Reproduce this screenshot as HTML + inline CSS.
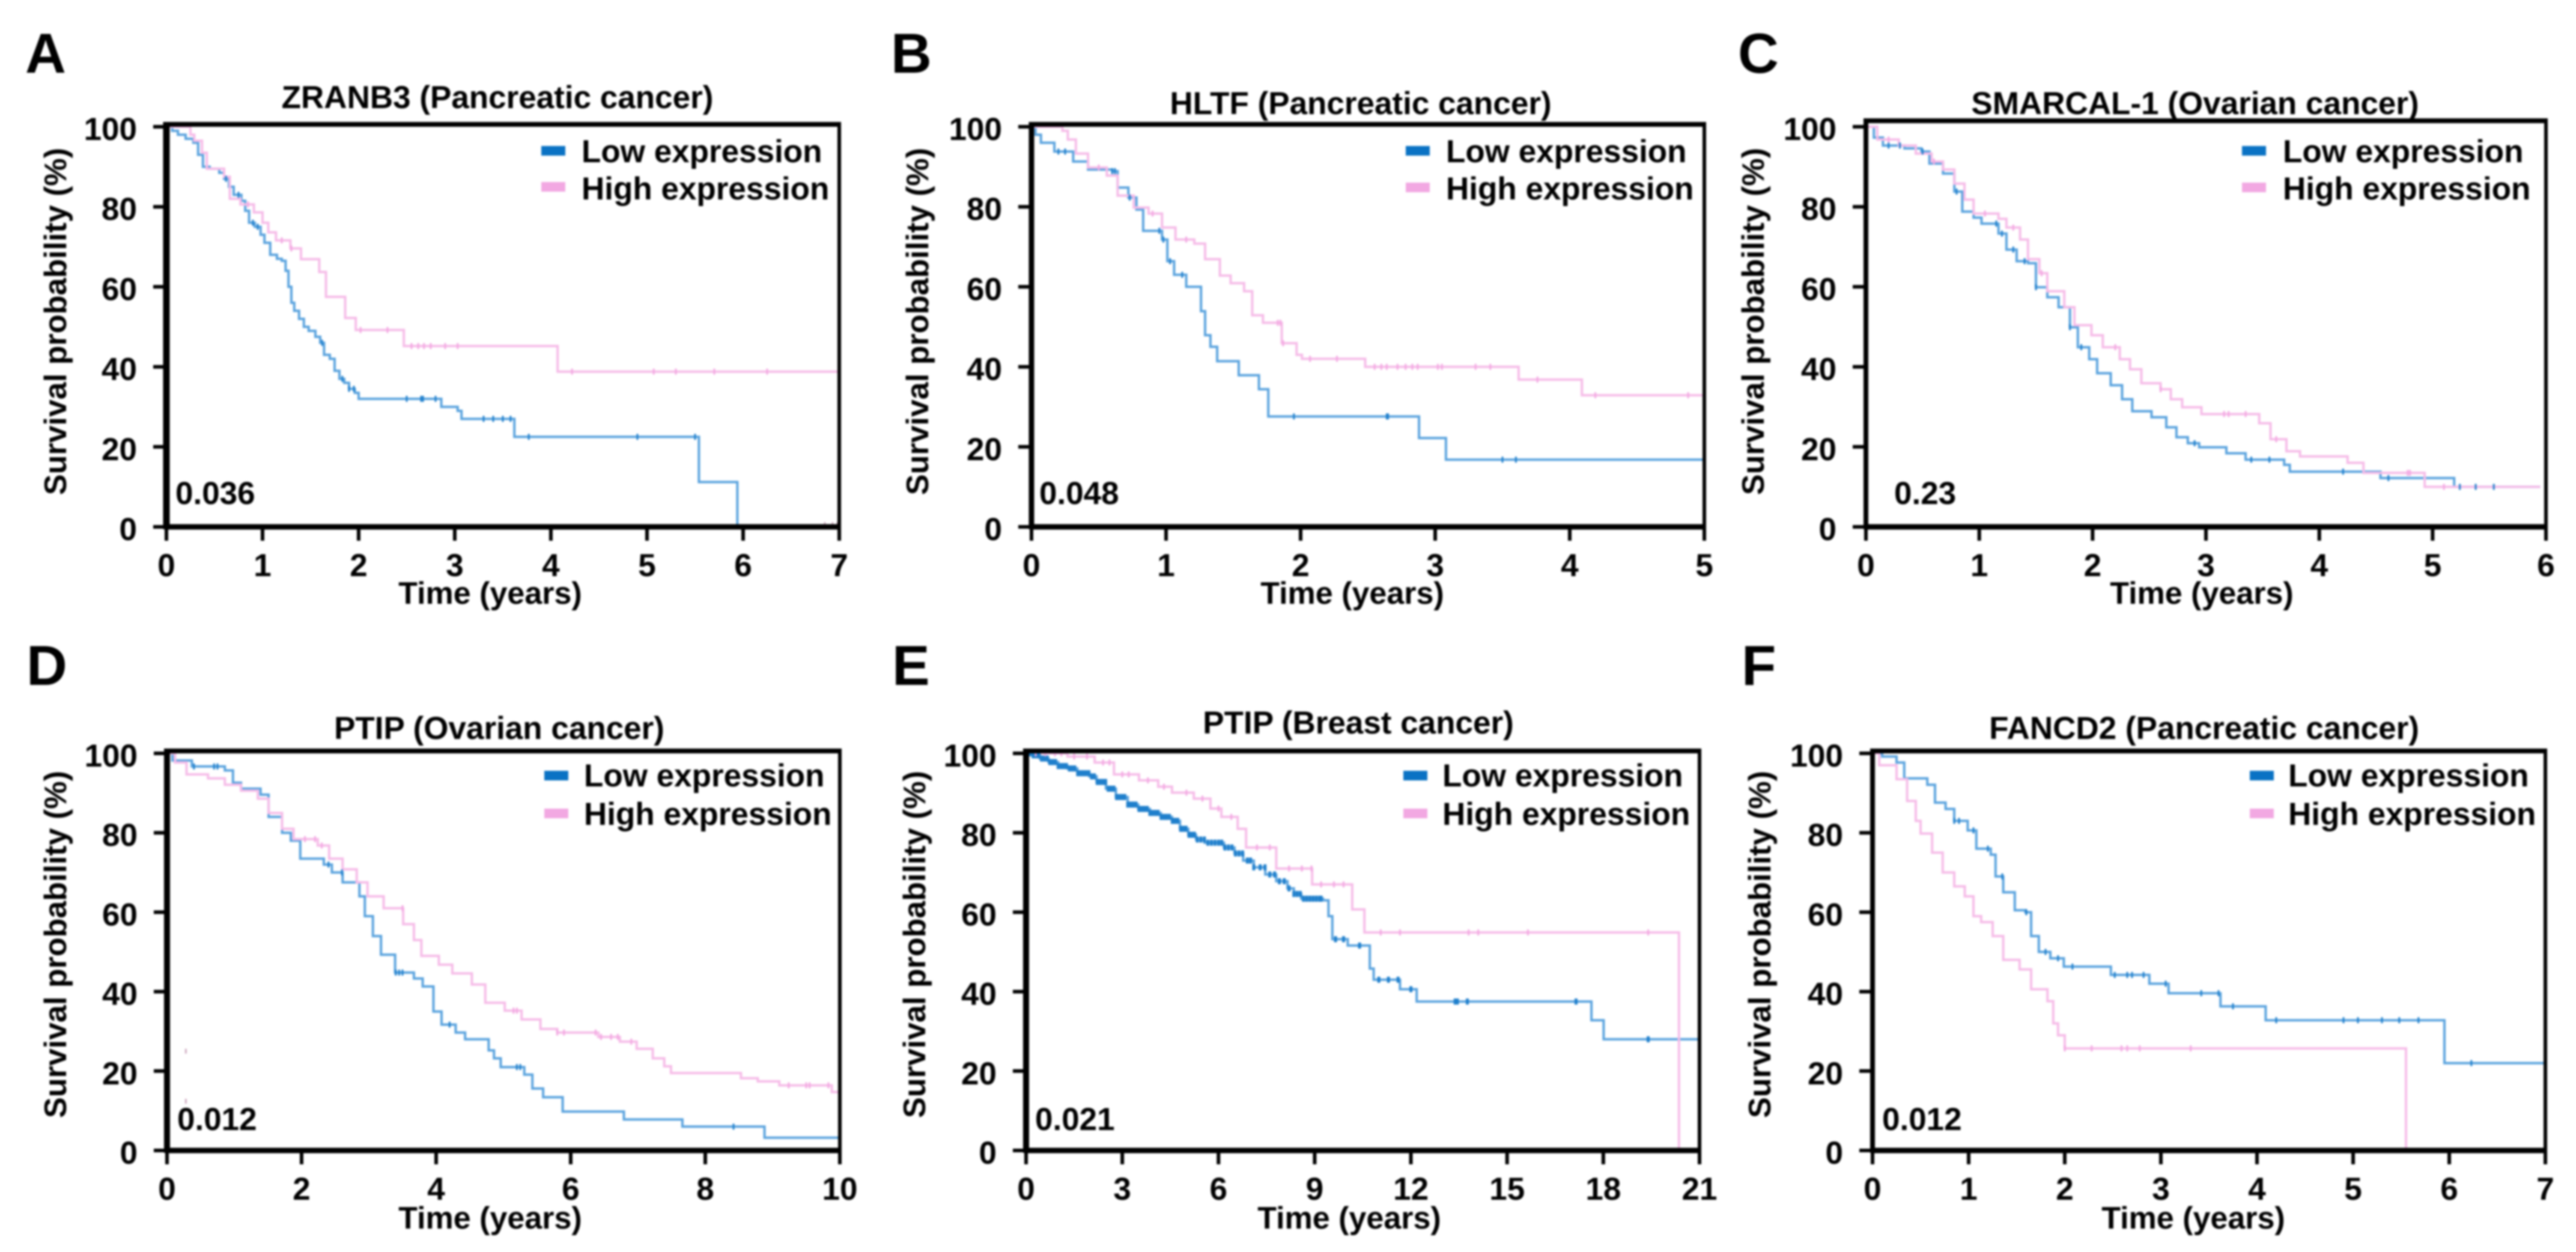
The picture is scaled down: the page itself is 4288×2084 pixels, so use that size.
<!DOCTYPE html>
<html lang="en">
<head>
<meta charset="utf-8">
<title>Survival curves by gene expression</title>
<style>
html,body{margin:0;padding:0;background:#fff;width:4288px;height:2084px;overflow:hidden}
svg{display:block;filter:blur(1.6px)}
text{font-family:"Liberation Sans",Arial,sans-serif;font-weight:bold;fill:#000}
</style>
</head>
<body>
<svg id="figure" xmlns="http://www.w3.org/2000/svg" width="4288" height="2084" viewBox="0 0 4288 2084">
<rect x="0" y="0" width="4288" height="2084" fill="#fff"/>
</svg>
<script>
const yTicks = [0, 20, 40, 60, 80, 100];
const xTicksA = [0, 1, 2, 3, 4, 5, 6, 7];
const xTicksB = [0, 1, 2, 3, 4, 5];
const xTicksC = [0, 1, 2, 3, 4, 5, 6];
const xTicksD = [0, 2, 4, 6, 8, 10];
const xTicksE = [0, 3, 6, 9, 12, 15, 18, 21];
const xTicksF = [0, 1, 2, 3, 4, 5, 6, 7];

const lowA = [[0,100],[.06,99],[.12,98],[.2,97],[.28,96],[.33,93],[.38,90],[.45,89.5],[.55,88.5],[.6,87],[.65,85],[.7,83],[.78,81.5],[.82,79],[.86,76],[.92,75],[.98,73],[1.02,71],[1.08,68],[1.15,67],[1.2,66.5],[1.24,64],[1.27,60],[1.3,56],[1.33,54],[1.38,52],[1.43,50],[1.48,49],[1.55,47.5],[1.6,46],[1.64,43],[1.7,42],[1.75,39],[1.8,37],[1.85,36],[1.9,34.5],[1.96,33.5],[2,32],[2.86,30],[3.03,29],[3.07,27],[3.62,22.5],[5.54,11.2],[5.94,0]];
const highA = [[0,100],[.2,100],[.25,98],[.29,96.5],[.37,93.5],[.42,89.5],[.6,87.5],[.66,82],[.77,80.6],[.91,78.6],[1,76],[1.06,73.6],[1.14,71.6],[1.29,69.6],[1.4,66.9],[1.59,63.7],[1.66,57.5],[1.86,52.2],[1.97,49.2],[2.47,45.2],[4.07,38.8],[7,38.8]];
const lowCensorA = [.62,.75,.9,.95,1.62,1.83,1.9,1.95,2.5,2.65,2.67,2.8,3.3,3.4,3.5,3.58,3.77,4.9,5.5];
const highCensorA = [.85,1.2,1.3,2.02,2.3,2.55,2.62,2.68,2.75,2.9,3.03,4.22,5.07,5.3,5.7,6.25];
const specksA = [[6.85,.6],[6.93,.6],[6.98,.6]];

const lowB = [[0,100],[.03,98],[.07,96],[.17,93.8],[.31,91.3],[.42,89.3],[.6,88.9],[.64,84.8],[.72,82.3],[.78,79.3],[.83,74],[.97,71.8],[1.01,66.4],[1.06,63],[1.15,60],[1.26,53.9],[1.29,47.9],[1.33,45],[1.38,41.4],[1.54,37.9],[1.69,34.4],[1.76,27.6],[2.88,22.2],[3.08,16.8],[5,16.8]];
const highB = [[0,100],[.23,99],[.27,96.8],[.33,93.3],[.42,89.8],[.56,87.8],[.64,82.8],[.76,79.8],[.87,78.3],[.97,74.8],[1.07,71.8],[1.21,70.8],[1.29,66.9],[1.4,62.8],[1.48,60.9],[1.58,58.9],[1.64,52.9],[1.72,51],[1.86,45.9],[1.97,43],[2.01,42],[2.48,40],[3.62,36.8],[4.09,32.9],[5,32.9]];
const lowCensorB = [.2,.25,.6,.62,.73,.95,.98,1.03,1.12,1.95,2.64,2.65,3.5,3.6];
const highCensorB = [.5,.9,1.15,1.83,1.85,1.87,2.07,2.27,2.55,2.6,2.64,2.72,2.78,2.83,2.87,3.02,3.05,3.3,3.41,3.76,4.19,4.88];
const specksB = [];

const lowC = [[0,100],[.07,97.3],[.15,95.3],[.34,94.6],[.49,93.8],[.56,90.8],[.68,88.3],[.78,83.8],[.85,78.8],[.95,77.3],[1.02,75.8],[1.17,73.3],[1.24,69.3],[1.33,66.4],[1.43,65.9],[1.5,59.9],[1.6,57.4],[1.7,54.9],[1.8,49.9],[1.87,44.9],[1.97,41.9],[2.04,38.4],[2.16,35.4],[2.26,31.9],[2.35,28.9],[2.52,27.4],[2.65,24.9],[2.74,22.4],[2.84,20.9],[2.94,19.9],[3.18,18.4],[3.35,16.8],[3.69,15.5],[3.74,13.8],[4.54,12.2],[5.19,10],[5.95,10]];
const highC = [[0,100],[.1,96.8],[.29,95.3],[.44,93.3],[.58,91.3],[.68,89.3],[.78,85.8],[.87,81.8],[.95,78.3],[1.17,77],[1.24,74.8],[1.36,71.8],[1.43,66.9],[1.53,63.4],[1.6,58.9],[1.75,54.9],[1.84,50.4],[1.99,47.9],[2.09,44.9],[2.24,41.9],[2.33,39.4],[2.43,35.9],[2.6,34.4],[2.69,31.9],[2.79,29.9],[2.96,28.2],[3.47,25.9],[3.57,21.9],[3.71,18.9],[3.83,17.6],[4.25,16],[4.39,13.5],[4.93,10],[5.95,10]];
const lowCensorC = [.2,.3,.5,.8,1.15,1.2,1.3,1.4,1.5,1.8,1.9,2.9,3.4,3.56,4.21,4.61,5.24,5.38,5.54];
const highCensorC = [.2,.6,1.05,1.3,1.55,2.2,2.6,3.16,3.2,3.35,3.62,4.78,4.8,5.1];
const specksC = [];

const lowD = [[0,100],[.08,98.2],[.37,96.7],[.86,95.7],[.98,92.6],[1.1,91.1],[1.39,89.6],[1.51,84],[1.71,80],[1.84,78],[1.98,73.5],[2.33,72],[2.45,70],[2.61,67.5],[2.86,64],[2.94,59],[3.06,54],[3.18,49.3],[3.39,44.8],[3.67,43.3],[3.8,41.3],[3.96,35],[4.08,31.7],[4.29,29.7],[4.43,28],[4.78,25.2],[4.86,23.2],[4.96,21],[5.31,19.1],[5.43,15.6],[5.59,13.4],[5.88,9.8],[6.79,7.8],[7.66,6],[8.88,3.2],[10,3.2]];
const highD = [[0,100],[.12,97.7],[.29,94.7],[.61,93.7],[.86,92.1],[1.1,90.6],[1.35,88.6],[1.51,85],[1.71,81],[1.88,78.4],[2.24,76.8],[2.41,73.5],[2.61,70.8],[2.82,67.5],[2.98,64],[3.22,61],[3.51,57],[3.67,53],[3.78,49],[4.04,46.8],[4.24,44.6],[4.53,41.8],[4.73,37.2],[5.02,35.2],[5.27,33],[5.55,30.6],[5.8,29.7],[6.41,28.6],[6.73,27.4],[6.98,25.6],[7.22,23.2],[7.39,21.2],[7.49,19.5],[8.53,18.2],[8.78,17.4],[9.1,16.4],[9.88,14.7],[10,14.7]];
const lowCensorD = [.4,.7,.75,2.4,2.6,3.4,3.45,3.5,4.2,5.2,5.25,8.42];
const highCensorD = [2.05,2.2,2.3,3.5,5.15,5.2,5.8,5.9,6.37,6.45,6.6,6.7,6.9,9.24,9.5,9.55,9.83];
const specksD = [[.28,25],[.28,12.4]];

const lowE = [[0,100],[.2,99.5],[.43,98.7],[.7,97.8],[1,96.8],[1.29,96.2],[1.6,95],[1.97,94.2],[2.2,92.8],[2.49,91.1],[2.8,89],[3.17,87.1],[3.5,86],[3.86,85],[4.2,84],[4.55,83],[4.8,81],[5.06,79.5],[5.3,78.3],[5.57,77.5],[6.17,76.3],[6.5,74.8],[6.77,73],[7.1,71.3],[7.46,69.5],[7.8,67.8],[8.15,66],[8.35,64.6],[8.58,63.4],[9.26,63],[9.43,59],[9.55,53.2],[10.03,51.6],[10.72,45.8],[10.84,43],[11.66,40.6],[12.18,37.5],[17.63,32.8],[18.01,28],[21,28]];
const highE = [[0,100],[1.29,99.2],[2.14,97.7],[2.74,94.7],[3.52,93.2],[4.12,91.6],[4.55,90.1],[5.23,88.6],[5.75,86.1],[6.09,84],[6.6,81],[6.86,76.3],[7.8,71],[8.92,67],[10.17,60.7],[10.55,54.9],[20.36,0]];
const lowCensorE = [.05,.14,.22,.31,.4,.48,.57,.66,.74,.83,.92,1,1.09,1.18,1.26,1.35,1.44,1.52,1.61,1.7,1.78,1.87,1.96,2.04,2.13,2.22,2.3,2.39,2.48,2.56,2.65,2.74,2.82,2.91,3,3.08,3.17,3.26,3.34,3.43,3.52,3.6,3.69,3.78,3.86,3.95,4.04,4.12,4.21,4.3,4.38,4.47,4.56,4.64,4.73,4.82,4.9,4.99,5.08,5.16,5.25,5.34,5.45,5.56,5.67,5.78,5.89,6,6.1,6.2,6.31,6.42,6.53,6.64,6.75,6.9,7,7.1,7.3,7.45,7.6,7.75,7.9,8.05,8.2,8.35,8.45,8.55,8.65,8.75,8.85,8.95,9.05,9.15,9.2,9.65,9.9,10.4,11,11.3,11.6,12,13.38,13.45,13.76,17.15,19.4];
const highCensorE = [.3,.6,.9,1.1,1.5,1.9,2.4,2.6,3,3.2,3.8,4.3,5,5.5,6,6.4,7.2,7.6,8.2,8.6,8.9,9.2,9.6,9.9,11.06,11.66,13.8,14.1,15.65,19.4];
const specksE = [];

const lowF = [[0,100],[.1,99.2],[.25,97.7],[.33,93.7],[.57,92.1],[.65,87.6],[.76,86],[.85,83],[.99,80.6],[1.08,76],[1.23,74.5],[1.28,69],[1.36,65],[1.48,60.5],[1.59,60],[1.65,54],[1.73,50],[1.85,48.4],[1.99,46.3],[2.48,44.2],[2.88,42],[3.08,39.6],[3.62,36.3],[4.09,32.8],[5.95,22],[7,22]];
const highF = [[0,100],[.07,97],[.25,93.5],[.36,88],[.45,83],[.5,79.8],[.62,75],[.73,70],[.85,66.5],[.96,64],[1.05,59],[1.13,57.5],[1.25,54],[1.36,48],[1.53,45.6],[1.65,40.6],[1.82,37.6],[1.88,32],[1.93,29],[2,25.7],[5.55,0]];
const lowCensorF = [.85,.9,1.05,1.2,1.35,1.6,1.8,1.93,2.08,2.52,2.65,2.7,2.82,3.05,3.42,3.6,3.75,4.2,4.9,5.05,5.3,5.48,5.68,6.23];
const highCensorF = [2,2.28,2.59,2.65,2.78,3.31];
const specksF = [];

const panelLetters = ['A', 'B', 'C', 'D', 'E', 'F'];
const panelTitles = ['ZRANB3 (Pancreatic cancer)', 'HLTF (Pancreatic cancer)', 'SMARCAL-1 (Ovarian cancer)', 'PTIP (Ovarian cancer)', 'PTIP (Breast cancer)', 'FANCD2 (Pancreatic cancer)'];
const pValues = ['0.036', '0.048', '0.23', '0.012', '0.021', '0.012'];
const xTickSets = [xTicksA, xTicksB, xTicksC, xTicksD, xTicksE, xTicksF];
const lowCurves = [lowA, lowB, lowC, lowD, lowE, lowF];
const highCurves = [highA, highB, highC, highD, highE, highF];
const lowCensors = [lowCensorA, lowCensorB, lowCensorC, lowCensorD, lowCensorE, lowCensorF];
const highCensors = [highCensorA, highCensorB, highCensorC, highCensorD, highCensorE, highCensorF];
const speckSets = [specksA, specksB, specksC, specksD, specksE, specksF];
const yAxisTitle = 'Survival probability (%)';
const xAxisTitle = 'Time (years)';
const legendLow = 'Low expression';
const legendHigh = 'High expression';

const layouts = [
  {x0:277,x1:1397,yT:211,y0:877,frame:207,lw:11,cw:3,lx:42,ly:121,tx:828,ty:180,ax:816,ay:1005,yx:110,yc:535,px:292,py:839,sw:901,tt:968,s1:251,s2:311,b1:270,b2:332},
  {x0:1717,x1:2837,yT:211,y0:877,frame:207,lw:9,cw:3,lx:1483,ly:121,tx:2265,ty:190,ax:2251,ay:1005,yx:1545,yc:535,px:1730,py:839,sw:2340,tt:2407,s1:251,s2:312,b1:270,b2:332},
  {x0:3106,x1:4238,yT:211,y0:877,frame:201,lw:8,cw:3,lx:2893,ly:121,tx:3654,ty:190,ax:3665,ay:1005,yx:2936,yc:535,px:3153,py:839,sw:3732,tt:3800,s1:251,s2:312,b1:270,b2:332},
  {x0:278,x1:1398,yT:1254,y0:1915,frame:1250,lw:10,cw:3,lx:44,ly:1140,tx:831,ty:1230,ax:816,ay:2045,yx:110,yc:1572,px:295,py:1881,sw:906,tt:972,s1:1291,s2:1354,b1:1309,b2:1373},
  {x0:1708,x1:2829,yT:1254,y0:1915,frame:1250,lw:10,cw:5,lx:1485,ly:1140,tx:2261,ty:1221,ax:2246,ay:2045,yx:1540,yc:1572,px:1723,py:1881,sw:2336,tt:2401,s1:1291,s2:1354,b1:1309,b2:1373},
  {x0:3117,x1:4237,yT:1254,y0:1915,frame:1250,lw:8,cw:3,lx:2899,ly:1140,tx:3669,ty:1230,ax:3651,ay:2045,yx:2947,yc:1572,px:3133,py:1881,sw:3745,tt:3809,s1:1291,s2:1354,b1:1309,b2:1373}
];
const LOW_LINE = '#5aa3de';
const HIGH_LINE = '#f6bce8';
const LOW_SWATCH = '#0a72c4';
const HIGH_SWATCH = '#f2a8e2';
const INK = '#000';

const NS = 'http://www.w3.org/2000/svg';
const root = document.getElementById('figure');

function make(tag, parent, attrs) {
  const node = document.createElementNS(NS, tag);
  for (const key in attrs) node.setAttribute(key, attrs[key]);
  parent.appendChild(node);
  return node;
}
function survivalAt(curve, t) {
  let s = curve[0][1];
  for (const p of curve) { if (p[0] <= t) s = p[1]; }
  return s;
}
function stepPath(curve, xScale, yScale) {
  let d = 'M' + xScale(curve[0][0]).toFixed(1) + ' ' + yScale(curve[0][1]).toFixed(1);
  for (let i = 1; i < curve.length; i++) {
    d += 'H' + xScale(curve[i][0]).toFixed(1) + 'V' + yScale(curve[i][1]).toFixed(1);
  }
  return d;
}

layouts.forEach(function (L, idx) {
  const ticks = xTickSets[idx];
  const xMax = ticks[ticks.length - 1];
  const xScale = function (t) { return L.x0 + (L.x1 - L.x0) * t / xMax; };
  const yScale = function (s) { return L.y0 - (L.y0 - L.yT) * s / 100; };

  const g = make('g', root, {});
  
  

  const letter = make('text', g, {x: L.lx, y: L.ly, 'font-size': 94});
  letter.textContent = panelLetters[idx];
  
  

  const title = make('text', g, {x: L.tx, y: L.ty, 'font-size': 53, 'text-anchor': 'middle'});
  title.textContent = panelTitles[idx];
  
  

  const lowPath = make('path', g, {d: stepPath(lowCurves[idx], xScale, yScale), fill: 'none', stroke: LOW_LINE, 'stroke-width': 4});
  
  

  const highPath = make('path', g, {d: stepPath(highCurves[idx], xScale, yScale), fill: 'none', stroke: HIGH_LINE, 'stroke-width': 4});
  
  

  lowCensors[idx].forEach(function (t) {
    const y = yScale(survivalAt(lowCurves[idx], t));
    const mark = make('line', g, {x1: xScale(t), x2: xScale(t), y1: y - 5, y2: y + 5, stroke: '#1f7fcc', 'stroke-width': L.cw});
    
    
  });
  highCensors[idx].forEach(function (t) {
    const y = yScale(survivalAt(highCurves[idx], t));
    const mark = make('line', g, {x1: xScale(t), x2: xScale(t), y1: y - 5, y2: y + 5, stroke: '#f3a8e2', 'stroke-width': 3});
    
    
  });
  speckSets[idx].forEach(function (p) {
    const y = yScale(p[1]);
    const speck = make('line', g, {x1: xScale(p[0]), x2: xScale(p[0]), y1: y - 4, y2: y + 4, stroke: '#c9a0b8', 'stroke-width': 2.5});
    
    
  });

  const leftAxis = make('line', g, {x1: L.x0, x2: L.x0, y1: L.frame - 4, y2: L.y0 + 4, stroke: INK, 'stroke-width': L.lw});
  
  
  const bottomAxis = make('line', g, {x1: L.x0, x2: L.x1 + 3, y1: L.y0, y2: L.y0, stroke: INK, 'stroke-width': 9});
  
  
  const topFrame = make('line', g, {x1: L.x0, x2: L.x1 + 3, y1: L.frame, y2: L.frame, stroke: INK, 'stroke-width': 8});
  
  
  const rightFrame = make('line', g, {x1: L.x1, x2: L.x1, y1: L.frame - 4, y2: L.y0 + 4, stroke: INK, 'stroke-width': 6});
  
  

  yTicks.forEach(function (v) {
    const y = yScale(v);
    const tick = make('line', g, {x1: L.x0 - 22, x2: L.x0, y1: y, y2: y, stroke: INK, 'stroke-width': 6});
    
    
    const label = make('text', g, {x: L.x0 - 49, y: y + 22, 'font-size': 53, 'text-anchor': 'end'});
    label.textContent = String(v);
    
    
  });
  ticks.forEach(function (v) {
    const x = xScale(v);
    const tick = make('line', g, {x1: x, x2: x, y1: L.y0, y2: L.y0 + 23, stroke: INK, 'stroke-width': 6});
    
    
    const label = make('text', g, {x: x, y: L.y0 + 82, 'font-size': 53, 'text-anchor': 'middle'});
    label.textContent = String(v);
    
    
  });

  const xTitle = make('text', g, {x: L.ax, y: L.ay, 'font-size': 52, 'text-anchor': 'middle'});
  xTitle.textContent = xAxisTitle;
  
  

  const yTitle = make('text', g, {x: 0, y: 0, 'font-size': 52, 'text-anchor': 'middle', transform: 'translate(' + L.yx + ' ' + L.yc + ') rotate(-90)'});
  yTitle.textContent = yAxisTitle;
  
  

  const pLabel = make('text', g, {x: L.px, y: L.py, 'font-size': 53});
  pLabel.textContent = pValues[idx];
  
  

  const lowSwatch = make('rect', g, {x: L.sw, y: L.s1 - 8, width: 40, height: 16, fill: LOW_SWATCH});
  
  
  const lowText = make('text', g, {x: L.tt, y: L.b1, 'font-size': 53});
  lowText.textContent = legendLow;
  
  
  const highSwatch = make('rect', g, {x: L.sw, y: L.s2 - 8, width: 40, height: 16, fill: HIGH_SWATCH});
  
  
  const highText = make('text', g, {x: L.tt, y: L.b2, 'font-size': 53});
  highText.textContent = legendHigh;
  
  
});
</script>
</body>
</html>
